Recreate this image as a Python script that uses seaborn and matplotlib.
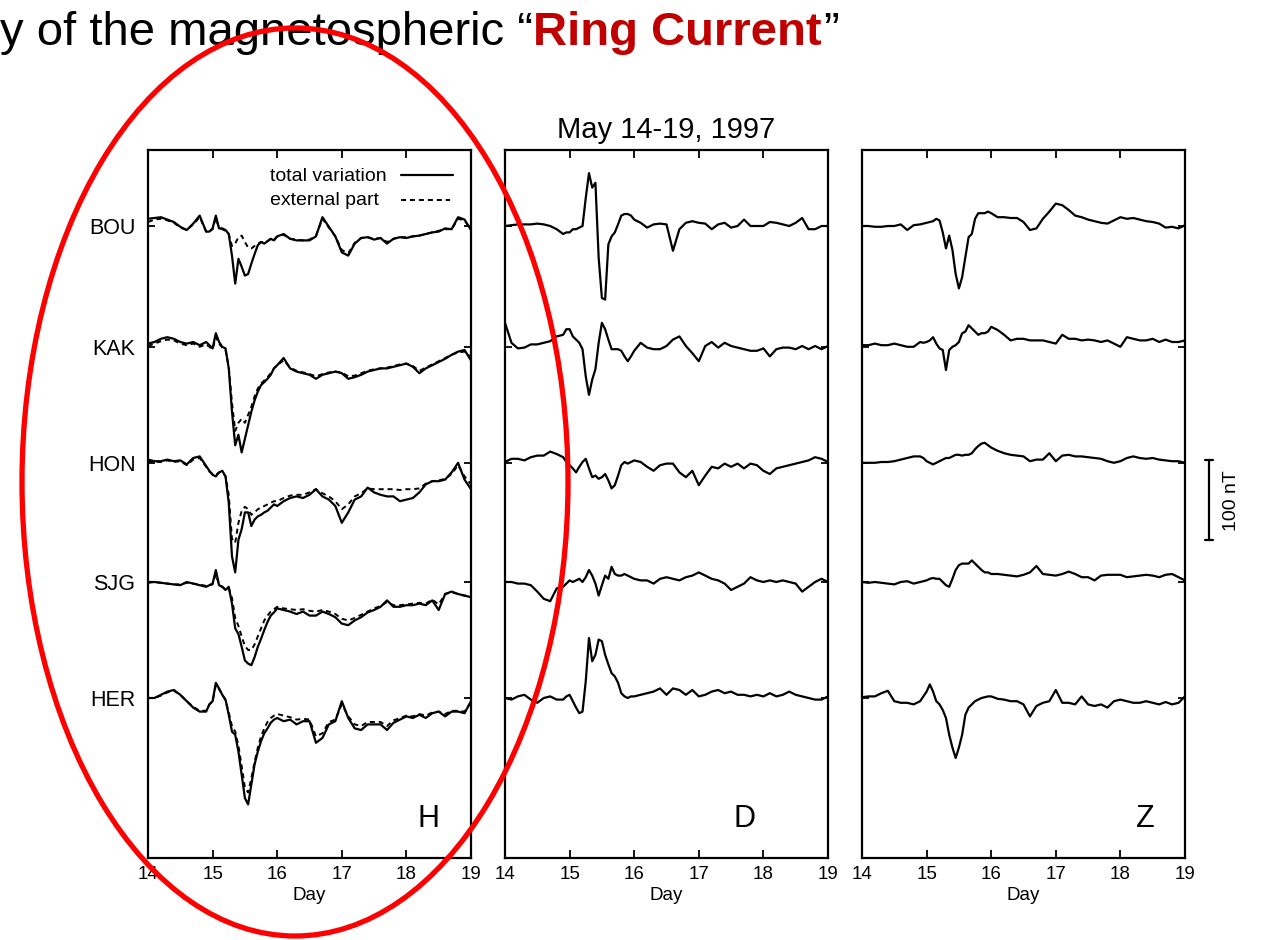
import matplotlib
matplotlib.use("Agg")
import matplotlib.pyplot as plt
import matplotlib.transforms as mtransforms
from matplotlib.patches import Ellipse
import numpy as np
import pandas as pd
import seaborn as sns

# ---------------- data ----------------
days = [14.0, 14.1, 14.2, 14.3, 14.4, 14.5, 14.6, 14.7, 14.8, 14.9,
        14.95, 15.0, 15.05, 15.1, 15.15, 15.2, 15.25, 15.3, 15.35, 15.4, 15.45,
        15.5, 15.55, 15.6, 15.65, 15.7, 15.75, 15.8, 15.85, 15.9, 15.95,
        16.0, 16.1, 16.2, 16.3, 16.4, 16.5, 16.6, 16.7, 16.8, 16.9,
        17.0, 17.1, 17.2, 17.3, 17.4, 17.5, 17.6, 17.7, 17.8, 17.9,
        18.0, 18.1, 18.2, 18.3, 18.4, 18.5, 18.6, 18.7, 18.8, 18.9, 19.0]

stations = ["BOU", "KAK", "HON", "SJG", "HER"]
station_offsets = [-95, -246, -391, -540, -685]   # nT, baseline of each trace

# H component, total variation (nT)
BOU_H = [9, 10, 11, 8, 5, -1, -5, 3, 13, -7,
         -7, -3, 13, -3, -3, -5, -10, -37, -72, -41, -51, -62, -60, -47, -35, -24, -20, -22, -19, -16, -18,
         -13, -10, -16, -18, -18, -18, -13, 11, -1, -13, -33, -37, -22, -15, -14, -17, -15, -22, -16, -14,
         -15, -13, -12, -10, -8, -7, -3, -4, 11, 8, -5]
KAK_H = [4, 6, 10, 12, 10, 6, 4, 6, 2, 6,
         2, -2, 17, 6, 0, -2, -27, -81, -123, -110, -132, -115, -98, -81, -67, -56, -48, -44, -40, -35, -27,
         -23, -14, -27, -31, -33, -35, -40, -35, -33, -31, -33, -40, -38, -35, -31, -29, -27, -27, -25, -23,
         -21, -25, -33, -27, -23, -19, -15, -10, -6, -4, -17]
HON_H = [4, 2, 2, 4, 2, 3, -2, 6, 8, -4,
         -10, -15, -17, -12, -10, -17, -50, -117, -137, -96, -83, -62, -62, -79, -71, -67, -65, -62, -60, -56, -52,
         -54, -48, -44, -42, -44, -40, -33, -42, -46, -54, -75, -62, -46, -42, -31, -37, -40, -42, -42, -48,
         -46, -44, -37, -27, -23, -23, -21, -12, 0, -21, -33]
SJG_H = [0, 0, -1, -2, -3, -4, 0, -2, -4, -6,
         -4, -2, 15, -4, -6, -10, -6, -27, -58, -65, -81, -98, -102, -104, -94, -81, -71, -60, -50, -42, -38,
         -33, -35, -37, -40, -37, -42, -42, -37, -40, -44, -52, -54, -48, -44, -38, -35, -31, -23, -31, -31,
         -29, -29, -27, -29, -23, -35, -15, -12, -15, -17, -19]
HER_H = [0, 0, 4, 8, 10, 4, -4, -12, -17, -17,
         -8, -4, 19, 12, 4, -2, -21, -42, -46, -67, -96, -125, -133, -108, -83, -67, -54, -44, -38, -31, -27,
         -25, -29, -27, -33, -29, -29, -56, -50, -33, -29, -4, -25, -38, -40, -33, -33, -33, -40, -31, -27,
         -23, -25, -21, -25, -19, -17, -23, -17, -17, -19, -4]

# H component, external part (nT)
BOU_H_ext = [5, 8, 9, 7, 4, -2, -5, 2, 11, -7,
             -7, -4, 10, -3, -4, -6, -10, -25, -22, -14, -12, -20, -27, -28, -25, -22, -20, -21, -19, -16, -17,
             -13, -11, -16, -17, -18, -17, -12, 9, -2, -13, -30, -34, -21, -15, -14, -16, -15, -20, -16, -14,
             -14, -13, -12, -10, -8, -6, -4, -4, 9, 7, -5]
KAK_H_ext = [1, 4, 7, 9, 8, 4, 2, 4, 0, 3,
             0, -3, 12, 4, -1, -4, -25, -70, -105, -95, -90, -95, -85, -75, -62, -52, -46, -42, -38, -33, -27,
             -23, -17, -26, -30, -32, -34, -37, -34, -32, -31, -32, -37, -36, -33, -30, -28, -27, -26, -24, -22,
             -21, -24, -30, -26, -22, -18, -14, -10, -7, -6, -13]
HON_H_ext = [2, 1, 1, 3, 1, 2, -3, 4, 6, -5,
             -11, -14, -15, -12, -11, -17, -40, -95, -100, -75, -60, -55, -58, -65, -62, -58, -56, -54, -52, -50, -48,
             -48, -44, -41, -40, -40, -37, -33, -38, -42, -48, -58, -52, -42, -38, -32, -33, -33, -33, -33, -34,
             -33, -33, -32, -26, -23, -22, -20, -14, -3, -17, -27]
SJG_H_ext = [-1, 0, -1, -2, -3, -3, -1, -2, -3, -5,
             -4, -3, 10, -4, -6, -9, -8, -20, -45, -55, -68, -80, -85, -85, -78, -68, -58, -48, -42, -37, -34,
             -31, -33, -34, -35, -34, -36, -37, -35, -37, -40, -46, -48, -45, -41, -37, -33, -30, -25, -29, -29,
             -28, -27, -26, -27, -22, -28, -15, -13, -15, -17, -18]
HER_H_ext = [0, 0, 3, 7, 9, 4, -4, -11, -16, -16,
             -8, -4, 16, 11, 4, -3, -18, -35, -42, -60, -85, -112, -118, -100, -80, -62, -48, -38, -30, -25, -22,
             -20, -22, -24, -27, -26, -27, -48, -44, -30, -27, -8, -23, -33, -35, -30, -30, -30, -35, -28, -25,
             -22, -23, -20, -22, -18, -17, -20, -16, -16, -17, -5]

# D component (nT)
BOU_D = [0, 1, 2, 2, 2, 3, 2, 0, -4, -10,
         -8, -8, -4, -4, -2, 0, 35, 66, 48, 54, -40, -90, -92, -23, -13, -8, 2, 13, 15, 15, 13,
         8, 4, -2, 2, 3, 2, -31, -4, 4, 6, 4, 3, -4, 2, 4, -2, 0, 8, 0, 0,
         0, 5, 4, 2, 0, 4, 10, -4, -4, 0, 0]
KAK_D = [30, 5, -2, -1, 3, 3, 5, 7, 13, 15,
         22, 22, 13, 9, 5, -3, -37, -60, -41, -28, 5, 30, 22, 9, -3, -3, -3, -5, -12, -18, -12,
         -5, 5, -1, -3, -3, 1, 9, 13, 1, -8, -18, 1, 6, -1, 5, 1, -1, -3, -5, -5,
         -2, -12, -3, -1, -1, -3, 1, -3, 1, -3, 1]
HON_D = [1, 5, 5, 3, 7, 9, 9, 14, 11, 7,
         1, -3, -7, -12, -5, 1, 5, -7, -18, -16, -20, -18, -14, -22, -32, -28, -16, -3, 1, -1, 1,
         3, 1, -5, -10, -3, -1, -1, -12, -18, -10, -28, -16, -5, -7, -1, -5, -1, -7, -1, -3,
         -10, -14, -7, -5, -3, -1, 1, 3, 7, 5, 1]
SJG_D = [0, 0, -2, -2, -4, -12, -21, -24, -8, -6,
         -2, 2, 0, 2, 4, 0, 6, 15, 8, -2, -17, -4, 8, 4, 19, 10, 8, 8, 10, 8, 6,
         4, 2, 2, -2, 4, 6, 4, 2, 6, 8, 12, 8, 4, 2, -2, -10, -6, -2, 6, 2,
         0, 2, 0, 2, 0, -2, -12, -6, 0, 4, 0]
HER_D = [0, -2, 2, 4, -2, -6, 0, 2, -2, -2,
         2, 4, -4, -12, -19, -17, 21, 75, 46, 54, 73, 71, 54, 42, 31, 27, 19, 6, 2, 0, 2,
         2, 4, 6, 8, 12, 4, 12, 10, 4, 10, 2, 4, 8, 10, 6, 8, 4, 4, 2, 4,
         2, 6, 2, 4, 8, 4, 2, 0, -2, -2, 2]

# Z component (nT)
BOU_Z = [0, 0, -1, -1, 0, 0, 2, -5, 1, 2,
         3, 4, 5, 6, 9, 7, -8, -28, -12, -30, -60, -78, -64, -39, -14, -10, 9, 16, 16, 16, 18,
         16, 11, 11, 10, 10, 5, -5, -3, 9, 18, 28, 26, 20, 13, 11, 8, 6, 4, 3, 7,
         11, 9, 10, 8, 6, 5, 3, -2, -1, -3, 1]
KAK_Z = [2, 2, 4, 2, 2, 4, 2, 0, 0, 6,
         5, 6, 8, 12, 4, -2, -4, -29, -4, 0, 2, 6, 17, 19, 27, 23, 19, 15, 17, 17, 19,
         25, 21, 15, 8, 10, 10, 8, 8, 8, 6, 4, 15, 10, 10, 8, 9, 8, 6, 8, 4,
         0, 12, 10, 8, 8, 10, 6, 9, 6, 6, 8]
HON_Z = [0, 0, 0, 1, 1, 2, 4, 6, 8, 8,
         6, 2, 0, -2, 0, 2, 4, 6, 6, 8, 10, 10, 9, 10, 10, 12, 17, 21, 24, 25, 22,
         19, 15, 12, 10, 9, 8, 2, 4, 4, 12, 2, 9, 10, 8, 8, 7, 6, 5, 2, 0,
         2, 6, 8, 6, 5, 6, 4, 3, 2, 2, 0]
SJG_Z = [0, -1, 0, -1, -2, -3, 0, 1, -2, 0,
         1, 2, 4, 5, 4, 4, 0, -4, -6, 4, 15, 21, 23, 23, 23, 27, 23, 19, 15, 12, 12,
         10, 10, 9, 8, 7, 9, 12, 20, 10, 9, 8, 10, 13, 10, 6, 6, 2, 8, 9, 9,
         9, 6, 7, 8, 9, 8, 6, 9, 10, 6, 2]
HER_Z = [1, 2, 2, 6, 9, -4, -6, -6, -8, -4,
         2, 8, 17, 8, -4, -8, -15, -25, -46, -62, -75, -62, -46, -21, -12, -8, -4, -2, 0, 1, 2,
         2, -1, -2, -4, -4, -8, -23, -10, -6, -4, 10, -6, -6, -8, 2, -8, -10, -8, -12, -4,
         -2, -4, -6, -6, -4, -6, -8, -5, -8, -6, 2]

day_ticks = [14, 15, 16, 17, 18, 19]
panel_letters = ["H", "D", "Z"]
date_title = "May 14-19, 1997"
legend_labels = ["total variation", "external part"]


def make_frame(series_list):
    rows = []
    for name, off, vals in zip(stations, station_offsets, series_list):
        for d, v in zip(days, vals):
            rows.append({"day": d, "station": name, "y": off + v})
    return pd.DataFrame(rows)


H_tot = make_frame([BOU_H, KAK_H, HON_H, SJG_H, HER_H])
H_ext = make_frame([BOU_H_ext, KAK_H_ext, HON_H_ext, SJG_H_ext, HER_H_ext])
D_tot = make_frame([BOU_D, KAK_D, HON_D, SJG_D, HER_D])
Z_tot = make_frame([BOU_Z, KAK_Z, HON_Z, SJG_Z, HER_Z])

# ---------------- figure ----------------
sns.set_theme(style="white")
plt.rcParams['font.family'] = ['Liberation Sans', 'DejaVu Sans']
plt.rcParams['axes.linewidth'] = 1.5
for k in ["text.color", "axes.labelcolor", "xtick.color", "ytick.color", "axes.edgecolor"]:
    plt.rcParams[k] = "black"

W, H = 1261, 940
fig = plt.figure(figsize=(W / 100, H / 100), dpi=100)
fig.patch.set_facecolor("white")

lefts = [148, 505, 862]
ax_w = 323
top_px, bot_px = 150, 858
axes = []
for lp in lefts:
    ax = fig.add_axes([lp / W, 1 - bot_px / H, ax_w / W, (bot_px - top_px) / H])
    axes.append(ax)

frames = [H_tot, D_tot, Z_tot]
letter_pos = [0.867, 0.74, 0.876]
for i, (ax, df) in enumerate(zip(axes, frames)):
    sns.lineplot(data=df, x="day", y="y", units="station", estimator=None,
                 color="black", lw=1.6, legend=False, ax=ax, sort=False)
    if i == 0:
        sns.lineplot(data=H_ext, x="day", y="y", units="station", estimator=None,
                     color="black", lw=1.4, legend=False, ax=ax, sort=False,
                     linestyle=(0, (2.6, 2.0)))
    ax.set_xlim(14, 19)
    ax.set_ylim(-885, 0)
    ax.set_xticks(day_ticks)
    ax.set_xticklabels([str(t) for t in day_ticks], fontsize=13.5)
    ax.set_yticks(station_offsets)
    if i == 0:
        ax.set_yticklabels(stations, fontsize=15.5)
    else:
        ax.set_yticklabels([])
    ax.tick_params(axis="x", direction="in", top=True, bottom=True, length=6,
                   width=1.3, pad=6, colors="black")
    ax.tick_params(axis="y", direction="in", left=True, right=True, length=5,
                   width=1.3, pad=9, colors="black")
    ax.set_xlabel("Day", fontsize=13.5, labelpad=3)
    ax.set_ylabel("")
    for s in ax.spines.values():
        s.set_color("black")
        s.set_linewidth(1.6)
    ax.text(letter_pos[i], 0.055, panel_letters[i], transform=ax.transAxes,
            fontsize=22, ha="center", va="center", color="black")

axes[1].set_title(date_title, fontsize=21, pad=9, color="black")

# legend in H panel
axH = axes[0]
axH.text(0.378, 0.962, legend_labels[0], transform=axH.transAxes, fontsize=14,
         ha="left", va="center")
axH.text(0.378, 0.929, legend_labels[1], transform=axH.transAxes, fontsize=14,
         ha="left", va="center")
axH.plot([0.783, 0.944], [0.965, 0.965], transform=axH.transAxes, color="black", lw=1.6)
axH.plot([0.783, 0.935], [0.929, 0.929], transform=axH.transAxes, color="black", lw=1.4,
         linestyle=(0, (2.6, 2.0)))

# scale bar 100 nT next to Z panel
axZ = axes[2]
trans = mtransforms.blended_transform_factory(axZ.transAxes, axZ.transData)
bx = (1209 - 862) / 323
cap = 0.013
ytop, ybot = -388, -488
axZ.plot([bx, bx], [ytop, ybot], transform=trans, color="black", lw=1.6, clip_on=False)
axZ.plot([bx - cap, bx + cap], [ytop, ytop], transform=trans, color="black", lw=1.6, clip_on=False)
axZ.plot([bx - cap, bx + cap], [ybot, ybot], transform=trans, color="black", lw=1.6, clip_on=False)
axZ.text((1231 - 862) / 323, (ytop + ybot) / 2, "100 nT", transform=trans, rotation=90,
         fontsize=14, ha="center", va="center")

# headline text
renderer = fig.canvas.get_renderer()
base_y = 1 - 45 / H
t1 = fig.text(0.0, base_y, "y of the magnetospheric \u201c", fontsize=34,
              ha="left", va="baseline", color="black")
x1 = t1.get_window_extent(renderer).x1 / W
t2 = fig.text(x1, base_y, "Ring Current", fontsize=34, fontweight="bold",
              ha="left", va="baseline", color="#c00000")
x2 = t2.get_window_extent(renderer).x1 / W
fig.text(x2 + 0.001, base_y, "\u201d", fontsize=34, ha="left", va="baseline", color="black")

# red ellipse annotation
ell = Ellipse((295 / W, 1 - 482 / H), 546 / W, 908 / H, transform=fig.transFigure,
              fill=False, edgecolor="#ff0000", lw=3.8, zorder=10)
fig.add_artist(ell)

fig.savefig("out.png", dpi=100, facecolor="white")
